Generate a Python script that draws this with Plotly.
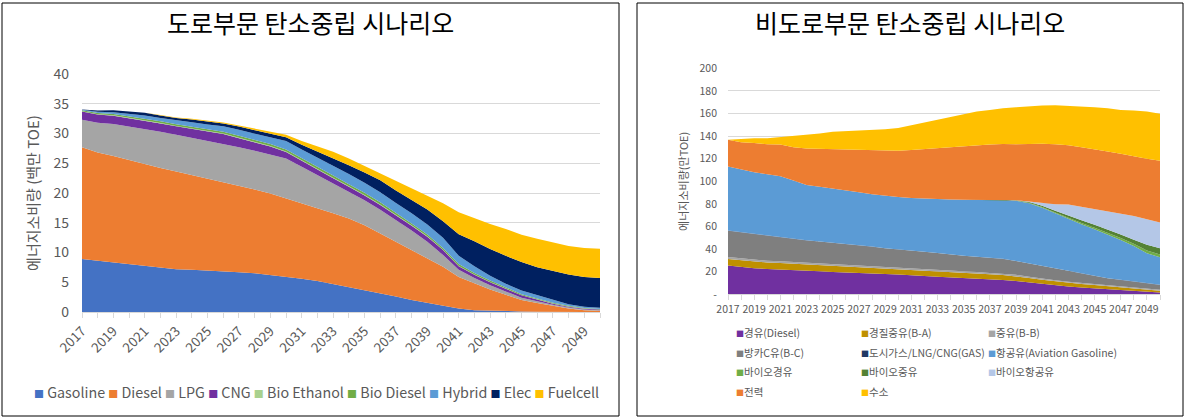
import plotly.graph_objects as go

W, H = 1186, 418

# ---------------- data ----------------
years = list(range(2017, 2051))

# 도로부문 (백만 TOE)
road_names = ["Gasoline", "Diesel", "LPG", "CNG", "Bio Ethanol", "Bio Diesel", "Hybrid", "Elec", "Fuelcell"]
road_colors = ["#4472C4", "#ED7D31", "#A5A5A5", "#7030A0", "#A9D18E", "#70AD47", "#5B9BD5", "#002060", "#FFC000"]
gasoline = [8.9, 8.6, 8.3, 8.0, 7.7, 7.4, 7.2, 7.1, 7.0, 6.9, 6.7, 6.5, 6.2, 6.0, 5.6, 5.2, 4.7,
            4.2, 3.7, 3.1, 2.6, 2.0, 1.5, 1.0, 0.6, 0.3, 0.2, 0.15, 0.1, 0.05, 0, 0, 0, 0]
diesel = [18.8, 18.2, 17.9, 17.5, 17.2, 16.8, 16.4, 15.9, 15.5, 15.0, 14.6, 14.1, 13.7, 13.1, 12.7, 12.2, 11.9,
          11.5, 10.9, 10.1, 9.2, 8.4, 7.5, 6.6, 5.3, 4.5, 3.6, 2.75, 1.9, 1.45, 1.0, 0.6, 0.3, 0.2]
lpg = [4.6, 5.0, 5.4, 5.7, 5.9, 6.1, 6.2, 6.3, 6.3, 6.4, 6.4, 6.5, 6.6, 6.7, 6.1, 5.6, 5.0,
       4.5, 4.2, 4.0, 3.7, 3.3, 2.8, 2.0, 1.2, 0.9, 0.7, 0.5, 0.4, 0.3, 0.2, 0.15, 0.1, 0.1]
cng = [1.4, 1.4, 1.4, 1.4, 1.4, 1.4, 1.4, 1.5, 1.6, 1.6, 1.5, 1.4, 1.3, 1.1, 1.0, 0.95, 0.9,
       0.85, 0.8, 0.8, 0.8, 0.8, 0.85, 0.8, 0.6, 0.55, 0.5, 0.45, 0.4, 0.3, 0.2, 0.15, 0.15, 0.1]
bio_ethanol = [0.05, 0.05, 0.05, 0.05, 0.06, 0.06, 0.07, 0.07, 0.08, 0.08, 0.08, 0.08, 0.08, 0.08, 0.08, 0.08, 0.08,
               0.08, 0.08, 0.08, 0.07, 0.07, 0.07, 0.06, 0.05, 0.05, 0.04, 0.04, 0.03, 0.03, 0.02, 0.02, 0.02, 0.02]
bio_diesel = [0.15, 0.2, 0.22, 0.25, 0.27, 0.28, 0.3, 0.3, 0.3, 0.32, 0.33, 0.33, 0.35, 0.35, 0.35, 0.35, 0.35,
              0.35, 0.35, 0.35, 0.33, 0.32, 0.3, 0.3, 0.3, 0.27, 0.24, 0.2, 0.17, 0.15, 0.13, 0.12, 0.1, 0.1]
hybrid = [0.1, 0.2, 0.3, 0.4, 0.5, 0.55, 0.6, 0.7, 0.75, 0.9, 1.0, 1.1, 1.2, 1.4, 1.5, 1.6, 1.7,
          1.7, 1.7, 1.7, 1.6, 1.7, 1.7, 1.7, 1.4, 1.1, 0.8, 0.65, 0.6, 0.55, 0.4, 0.25, 0.2, 0.2]
elec = [0.05, 0.2, 0.35, 0.4, 0.45, 0.45, 0.45, 0.5, 0.5, 0.5, 0.55, 0.55, 0.6, 0.65, 0.8, 1.0, 1.3,
        1.5, 1.7, 2.0, 2.1, 2.2, 2.5, 2.8, 3.6, 4.2, 4.5, 4.7, 4.8, 4.7, 4.9, 5.0, 5.0, 5.0]
fuelcell = [0, 0, 0, 0, 0.02, 0.05, 0.08, 0.1, 0.12, 0.15, 0.2, 0.25, 0.3, 0.4, 0.6, 0.8, 1.0,
            1.1, 1.1, 1.2, 1.6, 1.9, 2.3, 3.0, 3.7, 3.9, 4.2, 4.5, 4.6, 4.8, 4.8, 4.8, 4.9, 4.9]
road_series = [gasoline, diesel, lpg, cng, bio_ethanol, bio_diesel, hybrid, elec, fuelcell]
road_yticks = [0, 5, 10, 15, 20, 25, 30, 35, 40]
road_xticks = [2017, 2019, 2021, 2023, 2025, 2027, 2029, 2031, 2033, 2035, 2037, 2039, 2041, 2043, 2045, 2047, 2049]

# 비도로부문 (만 TOE)
nr_names = ["경유(Diesel)", "경질중유(B-A)", "중유(B-B)", "방카C유(B-C)", "도시가스/LNG/CNG(GAS)",
            "항공유(Aviation Gasoline)", "바이오경유", "바이오중유", "바이오항공유", "전력", "수소"]
nr_colors = ["#7030A0", "#BF9000", "#A5A5A5", "#7F7F7F", "#203864", "#5B9BD5",
             "#70AD47", "#548235", "#B4C7E7", "#ED7D31", "#FFC000"]
nr_diesel = [25.4, 24.2, 23.0, 22.5, 22.1, 21.5, 20.9, 20.3, 19.8, 19.5, 19.2, 18.6, 18.0, 17.5, 17.1, 16.2, 15.5,
             15.0, 14.4, 13.9, 13.3, 12.7, 11.8, 10.5, 9.1, 8.0, 6.8, 6.0, 5.3, 4.5, 3.8, 3.0, 2.2, 1.5]
nr_ba = [5.9, 5.9, 5.8, 5.7, 5.6, 5.6, 5.5, 5.4, 5.3, 5.3, 5.2, 5.1, 5.0, 4.9, 4.8, 4.8, 4.8,
         4.8, 4.7, 4.6, 4.5, 4.4, 4.3, 4.0, 3.7, 3.5, 3.4, 3.2, 3.0, 2.7, 2.4, 2.2, 2.0, 1.7]
nr_bb = [1.6, 1.6, 1.5, 1.5, 1.5, 1.5, 1.4, 1.4, 1.4, 1.4, 1.3, 1.3, 1.3, 1.3, 1.3, 1.2, 1.2,
         1.2, 1.2, 1.2, 1.1, 1.1, 1.1, 1.1, 1.0, 1.0, 1.0, 1.0, 0.9, 0.9, 0.9, 0.8, 0.8, 0.8]
nr_bc = [23.4, 23.1, 23.0, 22.3, 21.5, 20.6, 19.9, 19.6, 19.2, 18.5, 17.9, 17.1, 16.4, 16.1, 15.8, 15.4, 15.0,
         14.1, 13.8, 13.5, 13.4, 13.1, 12.2, 11.8, 11.4, 10.5, 9.6, 8.3, 7.0, 6.1, 5.6, 5.2, 4.7, 4.3]
nr_gas = [0.1, 0.1, 0.1, 0.1, 0.1, 0.1, 0.1, 0.1, 0.1, 0.1, 0.1, 0.1, 0.1, 0.1, 0.1, 0.1, 0.1,
          0.1, 0.1, 0.1, 0.1, 0.1, 0.1, 0.1, 0.1, 0.1, 0.1, 0.1, 0.1, 0.1, 0.1, 0.1, 0.1, 0.1]
nr_aviation = [56.7, 55.5, 54.6, 54.2, 53.6, 51.4, 48.9, 48.4, 47.9, 47.0, 46.5, 46.3, 46.3, 46.2, 46.2, 47.0, 47.8,
               48.7, 49.5, 50.2, 51.2, 52.2, 53.2, 53.1, 51.4, 48.5, 45.6, 43.4, 41.3, 38.8, 35.3, 31.4, 26.5, 24.4]
nr_bio_diesel = [0, 0, 0, 0, 0, 0, 0, 0, 0, 0, 0, 0, 0, 0, 0, 0, 0,
                 0, 0, 0, 0, 0, 0.2, 0.4, 0.6, 0.8, 1.0, 1.2, 1.4, 1.6, 1.8, 2.0, 2.5, 2.5]
nr_bio_heavy = [0, 0, 0, 0, 0, 0, 0, 0, 0, 0, 0, 0, 0, 0, 0, 0, 0,
                0, 0, 0, 0, 0, 0.3, 0.6, 1.0, 1.5, 2.0, 2.3, 2.5, 2.8, 3.0, 3.5, 5.0, 5.5]
nr_bio_aviation = [0, 0, 0, 0, 0, 0, 0, 0, 0, 0, 0, 0, 0, 0, 0, 0, 0,
                   0, 0, 0, 0, 0, 0, 0.5, 2.5, 5.8, 10.0, 12.1, 14.1, 16.3, 19.0, 21.2, 22.7, 22.7]
nr_electricity = [23.6, 24.2, 25.9, 26.5, 28.1, 29.5, 32.4, 33.6, 34.5, 36.6, 37.7, 38.9, 39.8, 41.0, 42.4, 43.9, 45.1,
                  46.0, 47.5, 48.4, 48.9, 49.5, 49.5, 51.0, 52.5, 53.1, 52.4, 52.5, 52.8, 52.6, 52.4, 52.5, 53.4, 54.6]
nr_hydrogen = [0, 3.0, 4.2, 5.3, 6.7, 10.0, 11.8, 13.6, 15.7, 15.9, 17.1, 18.0, 19.2, 20.1, 21.9, 23.0, 25.1,
               26.5, 28.0, 29.8, 30.7, 31.6, 32.8, 33.4, 33.7, 34.6, 35.1, 36.3, 37.2, 38.3, 38.9, 40.7, 41.9, 41.6]
nr_series = [nr_diesel, nr_ba, nr_bb, nr_bc, nr_gas, nr_aviation, nr_bio_diesel, nr_bio_heavy,
             nr_bio_aviation, nr_electricity, nr_hydrogen]
nr_yticks = [0, 20, 40, 60, 80, 100, 120, 140, 160, 180, 200]
nr_yticktext = ["-", "20", "40", "60", "80", "100", "120", "140", "160", "180", "200"]
nr_xticks = road_xticks

titles = ["도로부문 탄소중립 시나리오", "비도로부문 탄소중립 시나리오"]
ytitles = ["에너지소비량 (백만 TOE)", "에너지소비량(만TOE)"]

# ---------------- figure ----------------
KFONT = "Noto Sans CJK KR, Malgun Gothic, sans-serif"
GRAY = "#595959"
GRID = "#D9D9D9"

def px(x):
    return x / W

def py(y):
    return 1 - y / H

fig = go.Figure()

for name, color, vals in zip(road_names, road_colors, road_series):
    fig.add_trace(go.Scatter(x=years, y=vals, name=name, stackgroup="road", mode="lines",
                             line=dict(width=0, color=color), fillcolor=color,
                             xaxis="x", yaxis="y", showlegend=False))

for name, color, vals in zip(nr_names, nr_colors, nr_series):
    fig.add_trace(go.Scatter(x=years, y=vals, name=name, stackgroup="nonroad", mode="lines",
                             line=dict(width=0, color=color), fillcolor=color,
                             xaxis="x2", yaxis="y2", showlegend=False))

axis_common = dict(showgrid=False, zeroline=False, showline=True, linecolor=GRID, linewidth=1,
                   ticks="outside", tickcolor=GRID, ticklen=5, automargin=False,
                   minor=dict(ticks="outside", tickmode="linear", tick0=2017, dtick=1,
                              ticklen=5, tickcolor=GRID, showgrid=False))

fig.update_layout(
    template="none",
    width=W, height=H, margin=dict(l=0, r=0, t=0, b=0, pad=0, autoexpand=False),
    paper_bgcolor="white", plot_bgcolor="white",
    font=dict(family=KFONT, color=GRAY),
    showlegend=False,
    xaxis=dict(domain=[px(82), px(600)], range=[2017, 2050], anchor="y",
               tickmode="array", tickvals=road_xticks, ticktext=[str(v) for v in road_xticks],
               tickangle=-45, tickfont=dict(size=13.5, color=GRAY), **axis_common),
    yaxis=dict(domain=[py(312), py(74)], range=[0, 40], anchor="x", automargin=False,
               tickmode="array", tickvals=road_yticks, showgrid=True, gridcolor=GRID, gridwidth=1,
               zeroline=False, showline=False, ticks="", ticklabelstandoff=12,
               tickfont=dict(size=14, color=GRAY),
               title=dict(text=ytitles[0], font=dict(size=15, color=GRAY), standoff=10)),
    xaxis2=dict(domain=[px(728), px(1160)], range=[2017, 2050], anchor="y2",
                tickmode="array", tickvals=nr_xticks, ticktext=[str(v) for v in nr_xticks],
                tickangle=0, tickfont=dict(size=10.5, color=GRAY), **axis_common),
    yaxis2=dict(domain=[py(294.3), py(68.3)], range=[0, 200], anchor="x2", automargin=False,
                tickmode="array", tickvals=nr_yticks, ticktext=nr_yticktext,
                showgrid=True, gridcolor=GRID, gridwidth=1,
                zeroline=False, showline=False, ticks="", ticklabelstandoff=10,
                tickfont=dict(size=10.5, color=GRAY),
                title=dict(text=ytitles[1], font=dict(size=11, color=GRAY), standoff=8)),
)

# panel borders
for x0, x1 in [(2, 619), (637, 1183)]:
    fig.add_shape(type="rect", xref="paper", yref="paper", x0=px(x0), x1=px(x1), y0=py(416), y1=py(3),
                  line=dict(color="black", width=1), fillcolor="rgba(0,0,0,0)", layer="above")

# titles
for t, cx in zip(titles, [310, 910]):
    fig.add_annotation(text=t, xref="paper", yref="paper", x=px(cx), y=py(22), showarrow=False,
                       xanchor="center", yanchor="middle", font=dict(size=25, color="black", family=KFONT))

# legend – road (single row)
road_leg = " ".join(
    f'<span style="color:{c};font-size:10px">■</span> {n}' for n, c in zip(road_names, road_colors))
fig.add_annotation(text=road_leg, xref="paper", yref="paper", x=px(316), y=py(391), showarrow=False,
                   xanchor="center", yanchor="middle", font=dict(size=14.3, color=GRAY, family=KFONT))

# legend – non-road (3-column grid)
col_x = [734, 859, 986]
row_y = [332.5, 352.5, 371.5, 391.5]
for i, (n, c) in enumerate(zip(nr_names, nr_colors)):
    r, cidx = divmod(i, 3)
    fig.add_annotation(text=f'<span style="color:{c};font-size:8px">■</span>{n}',
                       xref="paper", yref="paper", x=px(col_x[cidx]), y=py(row_y[r]), showarrow=False,
                       xanchor="left", yanchor="middle", font=dict(size=10.5, color=GRAY, family=KFONT))

fig.write_html("out.html", post_script="document.body.style.margin='0';",
               config={"displayModeBar": False})
